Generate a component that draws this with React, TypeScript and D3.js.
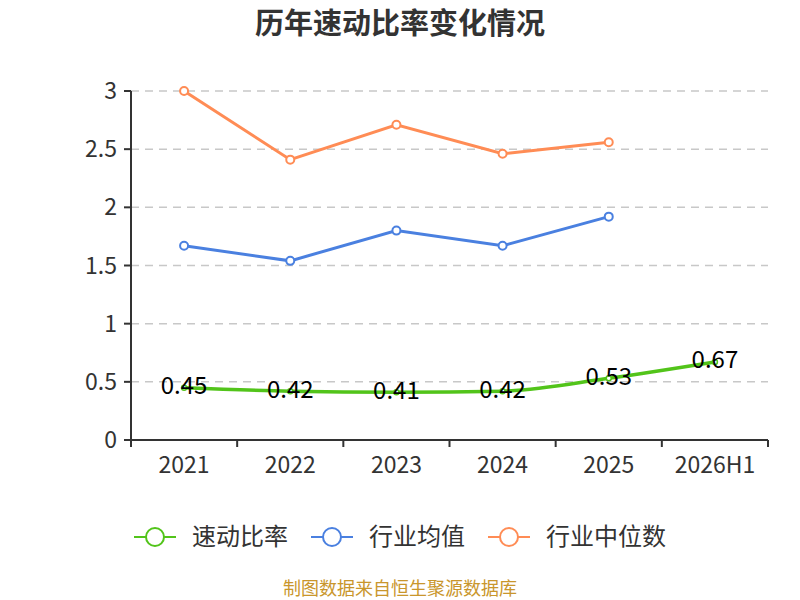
import React from "react";
import * as d3 from "d3";

const categories = ["2021", "2022", "2023", "2024", "2025", "2026H1"];
const quickRatio = [0.45, 0.42, 0.41, 0.42, 0.53, 0.67];
const industryAvg = [1.67, 1.54, 1.8, 1.67, 1.92];
const industryMedian = [3.0, 2.41, 2.71, 2.46, 2.56];
const yTicks = [0, 0.5, 1, 1.5, 2, 2.5, 3];

const seriesNames = ["速动比率", "行业均值", "行业中位数"];
const colors = ["#52c41a", "#4a80e0", "#ff8c55"];

const FONT = "'Noto Sans CJK SC', 'Noto Sans', sans-serif";

export default function App() {
  const left = 131, right = 768, top = 91, bottom = 440;

  const x = d3.scaleBand().domain(categories).range([left, right]);
  const y = d3.scaleLinear().domain([0, 3]).range([bottom, top]);
  const cx = (i: number) => (x(categories[i]) as number) + x.bandwidth() / 2;

  const straight = d3
    .line<number>()
    .x((_, i) => cx(i))
    .y((d) => y(d));
  const smooth = d3
    .line<number>()
    .x((_, i) => cx(i))
    .y((d) => y(d))
    .curve(d3.curveMonotoneX);

  const bounds = categories.map((c) => x(c) as number).concat([right]);

  const legendX = [134, 311, 488];

  return (
    <svg width={800} height={600} style={{ position: "absolute", left: 0, top: 0, background: "#fff" }}>
      <rect width={800} height={600} fill="#fff" />
      <text x={400} y={34} textAnchor="middle" fontFamily={FONT} fontSize={29} fontWeight="bold" fill="#333">
        历年速动比率变化情况
      </text>

      {/* grid */}
      {yTicks.filter((t) => t > 0).map((t) => (
        <line key={t} x1={left} x2={right} y1={y(t)} y2={y(t)} stroke="#c8c8c8" strokeWidth={1.5} strokeDasharray="8,6" />
      ))}

      {/* y axis */}
      <line x1={left} x2={left} y1={top} y2={bottom} stroke="#333" strokeWidth={2} />
      {yTicks.map((t) => (
        <g key={t}>
          <line x1={left - 7} x2={left} y1={y(t)} y2={y(t)} stroke="#333" strokeWidth={2} />
          <text x={left - 14} y={y(t)} dy="0.35em" textAnchor="end" fontFamily={FONT} fontSize={23} fill="#333">
            {t}
          </text>
        </g>
      ))}

      {/* x axis */}
      <line x1={left} x2={right} y1={bottom} y2={bottom} stroke="#333" strokeWidth={2} />
      {bounds.map((b, i) => (
        <line key={i} x1={b} x2={b} y1={bottom} y2={bottom + 7} stroke="#333" strokeWidth={2} />
      ))}
      {categories.map((c, i) => (
        <text key={c} x={cx(i)} y={465} dy="0.35em" textAnchor="middle" fontFamily={FONT} fontSize={23} fill="#333">
          {c}
        </text>
      ))}

      {/* industry median */}
      <path d={straight(industryMedian) || ""} fill="none" stroke={colors[2]} strokeWidth={3} />
      {industryMedian.map((v, i) => (
        <circle key={i} cx={cx(i)} cy={y(v)} r={4} fill="#fff" stroke={colors[2]} strokeWidth={2} />
      ))}

      {/* industry avg */}
      <path d={straight(industryAvg) || ""} fill="none" stroke={colors[1]} strokeWidth={3} />
      {industryAvg.map((v, i) => (
        <circle key={i} cx={cx(i)} cy={y(v)} r={4} fill="#fff" stroke={colors[1]} strokeWidth={2} />
      ))}

      {/* quick ratio */}
      <path d={smooth(quickRatio) || ""} fill="none" stroke={colors[0]} strokeWidth={3.5} />
      {quickRatio.map((v, i) => (
        <circle key={i} cx={cx(i)} cy={y(v)} r={2.5} fill="#fff" stroke={colors[0]} strokeWidth={1.5} />
      ))}
      {quickRatio.map((v, i) => (
        <text key={"l" + i} x={cx(i)} y={y(v) - 2} dy="0.35em" textAnchor="middle" fontFamily={FONT} fontSize={24} fill="#000">
          {v.toFixed(2)}
        </text>
      ))}

      {/* legend */}
      {seriesNames.map((n, i) => (
        <g key={n}>
          <line x1={legendX[i]} x2={legendX[i] + 42} y1={537} y2={537} stroke={colors[i]} strokeWidth={2} />
          <circle cx={legendX[i] + 21} cy={537} r={9} fill="#fff" stroke={colors[i]} strokeWidth={2} />
          <text x={legendX[i] + 58} y={537} dy="0.35em" fontFamily={FONT} fontSize={24} fill="#333">
            {n}
          </text>
        </g>
      ))}

      <text x={400} y={589} dy="0.35em" textAnchor="middle" fontFamily={FONT} fontSize={18} fill="#c9962c">
        制图数据来自恒生聚源数据库
      </text>
    </svg>
  );
}
